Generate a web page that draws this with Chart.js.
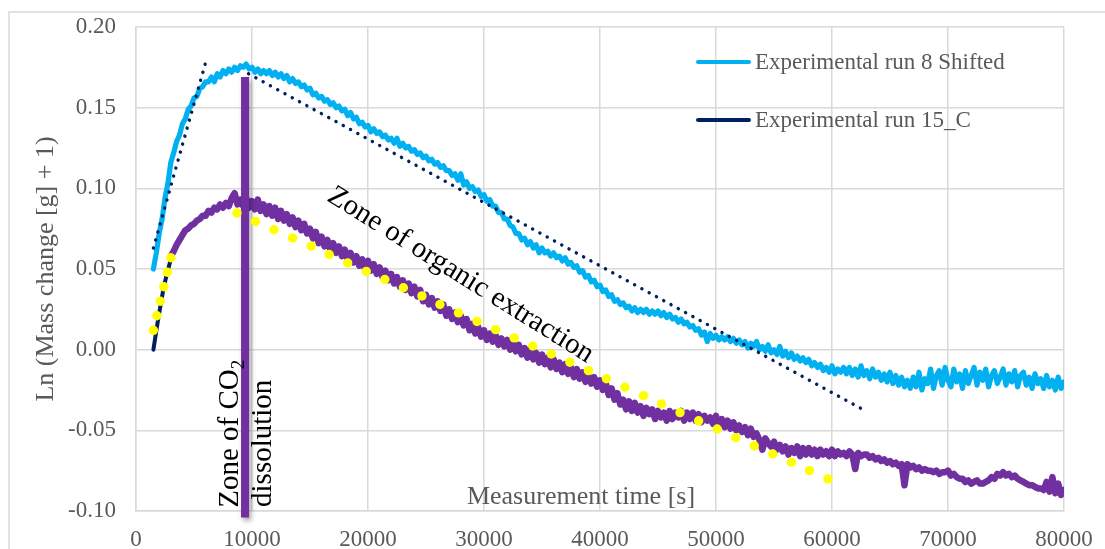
<!DOCTYPE html>
<html>
<head>
<meta charset="utf-8">
<script src="https://cdn.jsdelivr.net/npm/chart.js@4.4.1/dist/chart.umd.min.js"></script>
<style>
  html, body { margin: 0; padding: 0; background: #ffffff; }
  canvas { display: block; }
</style>
</head>
<body>
<canvas id="chart" width="1105" height="549"></canvas>
<script>
// ---- values ---------------------------------------------------------------

// Experimental run 8 (shifted): one reading every 250 s starting at 1500 s
const RUN8_START = 1500;
const RUN8_STEP = 250;
const run8 = [
  // 1500 s
  0.050, 0.060, 0.072, 0.081, 0.094, 0.103, 0.116, 0.122, 0.129, 0.133,
  0.140, 0.143, 0.149, 0.151, 0.156, 0.157, 0.162, 0.163, 0.166, 0.166,
  // 6500 s
  0.169, 0.166, 0.171, 0.169, 0.173, 0.171, 0.174, 0.172, 0.175, 0.173,
  0.176, 0.175, 0.177, 0.174, 0.175, 0.172, 0.174, 0.171, 0.173, 0.171,
  // 11500 s
  0.173, 0.170, 0.172, 0.169, 0.171, 0.168, 0.170, 0.166, 0.168, 0.165,
  0.166, 0.163, 0.164, 0.161, 0.162, 0.158, 0.159, 0.156, 0.157, 0.154,
  // 16500 s
  0.155, 0.152, 0.153, 0.150, 0.151, 0.148, 0.149, 0.145, 0.147, 0.143,
  0.144, 0.140, 0.141, 0.138, 0.139, 0.135, 0.137, 0.134, 0.135, 0.132,
  // 21500 s
  0.133, 0.130, 0.131, 0.128, 0.131, 0.126, 0.128, 0.125, 0.126, 0.123,
  0.124, 0.121, 0.122, 0.119, 0.120, 0.117, 0.118, 0.115, 0.116, 0.113,
  // 26500 s
  0.114, 0.111, 0.111, 0.108, 0.109, 0.105, 0.109, 0.102, 0.104, 0.100,
  0.101, 0.098, 0.099, 0.095, 0.096, 0.092, 0.093, 0.089, 0.089, 0.085,
  // 31500 s
  0.085, 0.081, 0.081, 0.077, 0.076, 0.072, 0.072, 0.068, 0.069, 0.065,
  0.067, 0.063, 0.065, 0.060, 0.063, 0.060, 0.061, 0.058, 0.060, 0.057,
  // 36500 s
  0.058, 0.055, 0.057, 0.053, 0.054, 0.051, 0.052, 0.048, 0.049, 0.045,
  0.046, 0.042, 0.043, 0.039, 0.040, 0.036, 0.037, 0.033, 0.034, 0.030,
  // 41500 s
  0.031, 0.028, 0.029, 0.026, 0.027, 0.024, 0.026, 0.023, 0.025, 0.023,
  0.025, 0.022, 0.024, 0.022, 0.024, 0.021, 0.023, 0.020, 0.022, 0.019,
  // 46500 s
  0.020, 0.017, 0.019, 0.016, 0.017, 0.014, 0.015, 0.012, 0.013, 0.009,
  0.011, 0.005, 0.010, 0.007, 0.009, 0.006, 0.008, 0.006, 0.008, 0.005,
  // 51500 s
  0.007, 0.004, 0.006, 0.003, 0.005, 0.001, 0.004, 0.002, 0.005, 0.000,
  0.002, -0.001, 0.003, -0.002, 0.000, -0.003, 0.002, -0.004, -0.001, -0.005,
  // 56500 s
  -0.002, -0.006, -0.004, -0.007, -0.005, -0.008, -0.006, -0.010, -0.008, -0.011,
  -0.009, -0.013, -0.011, -0.014, -0.010, -0.015, -0.012, -0.014, -0.011, -0.015,
  // 61500 s
  -0.011, -0.016, -0.012, -0.017, -0.010, -0.016, -0.013, -0.018, -0.012, -0.017,
  -0.014, -0.019, -0.015, -0.020, -0.014, -0.021, -0.016, -0.022, -0.017, -0.023,
  // 66500 s
  -0.019, -0.024, -0.017, -0.023, -0.014, -0.025, -0.018, -0.021, -0.012, -0.024,
  -0.016, -0.013, -0.022, -0.011, -0.019, -0.023, -0.012, -0.020, -0.015, -0.024,
  // 71500 s
  -0.013, -0.021, -0.016, -0.011, -0.022, -0.014, -0.019, -0.012, -0.023, -0.016,
  -0.013, -0.021, -0.017, -0.012, -0.022, -0.015, -0.020, -0.013, -0.023, -0.016,
  // 76500 s
  -0.014, -0.022, -0.017, -0.024, -0.015, -0.021, -0.018, -0.024, -0.016, -0.023,
  -0.019, -0.025, -0.017, -0.024, -0.020
];

// Experimental run 15_C, first minutes: one reading every 300 s from 1500 s
const RUN15_START = 1500;
const RUN15_STEP = 300;
const run15 = [0.000, 0.014, 0.027, 0.039, 0.048, 0.056];

// Run 15_C, full record: one reading every 250 s from 3000 s
const RUN15_LONG_START = 3000;
const RUN15_LONG_STEP = 250;
const run15Long = [
  // 3000 s
  0.058, 0.061, 0.065, 0.068, 0.071, 0.074, 0.075, 0.077, 0.078, 0.080,
  0.081, 0.083, 0.083, 0.086, 0.085, 0.088, 0.087, 0.090, 0.088, 0.091,
  // 8000 s
  0.089, 0.094, 0.097, 0.090, 0.093, 0.089, 0.094, 0.088, 0.092, 0.087,
  0.093, 0.086, 0.090, 0.084, 0.089, 0.083, 0.088, 0.081, 0.086, 0.080,
  // 13000 s
  0.084, 0.078, 0.082, 0.076, 0.080, 0.074, 0.078, 0.072, 0.075, 0.069,
  0.073, 0.066, 0.070, 0.064, 0.068, 0.062, 0.066, 0.060, 0.064, 0.058,
  // 18000 s
  0.062, 0.056, 0.060, 0.054, 0.058, 0.052, 0.056, 0.050, 0.055, 0.049,
  0.053, 0.047, 0.051, 0.045, 0.049, 0.043, 0.047, 0.041, 0.045, 0.039,
  // 23000 s
  0.043, 0.037, 0.041, 0.035, 0.039, 0.033, 0.037, 0.030, 0.034, 0.028,
  0.032, 0.026, 0.030, 0.024, 0.028, 0.021, 0.025, 0.019, 0.023, 0.017,
  // 28000 s
  0.021, 0.015, 0.019, 0.012, 0.016, 0.010, 0.014, 0.008, 0.012, 0.006,
  0.010, 0.005, 0.009, 0.003, 0.007, 0.002, 0.006, 0.000, 0.004, -0.001,
  // 33000 s
  0.003, -0.003, 0.001, -0.005, 0.000, -0.006, -0.002, -0.008, -0.003, -0.009,
  -0.005, -0.011, -0.006, -0.012, -0.008, -0.014, -0.009, -0.015, -0.011, -0.017,
  // 38000 s
  -0.012, -0.018, -0.014, -0.020, -0.016, -0.021, -0.017, -0.023, -0.019, -0.025,
  -0.021, -0.028, -0.024, -0.031, -0.027, -0.034, -0.031, -0.037, -0.032, -0.038,
  // 43000 s
  -0.033, -0.039, -0.035, -0.041, -0.036, -0.040, -0.037, -0.043, -0.038, -0.042,
  -0.039, -0.044, -0.038, -0.043, -0.039, -0.042, -0.038, -0.044, -0.039, -0.043,
  // 48000 s
  -0.039, -0.044, -0.040, -0.045, -0.041, -0.044, -0.042, -0.046, -0.041, -0.047,
  -0.043, -0.048, -0.044, -0.049, -0.045, -0.050, -0.047, -0.051, -0.048, -0.053,
  // 53000 s
  -0.049, -0.054, -0.052, -0.056, -0.062, -0.055, -0.058, -0.060, -0.057, -0.062,
  -0.059, -0.063, -0.060, -0.065, -0.061, -0.064, -0.060, -0.066, -0.061, -0.065,
  // 58000 s
  -0.061, -0.065, -0.062, -0.066, -0.062, -0.065, -0.063, -0.066, -0.062, -0.066,
  -0.063, -0.065, -0.064, -0.066, -0.063, -0.065, -0.074, -0.064, -0.066, -0.065,
  // 63000 s
  -0.065, -0.067, -0.066, -0.068, -0.067, -0.069, -0.068, -0.070, -0.069, -0.071,
  -0.070, -0.072, -0.071, -0.084, -0.071, -0.073, -0.072, -0.074, -0.073, -0.075,
  // 68000 s
  -0.074, -0.075, -0.075, -0.076, -0.075, -0.077, -0.076, -0.076, -0.075, -0.078,
  -0.077, -0.079, -0.080, -0.080, -0.082, -0.081, -0.083, -0.082, -0.081, -0.083,
  // 73000 s
  -0.083, -0.082, -0.081, -0.079, -0.080, -0.077, -0.078, -0.076, -0.078, -0.077,
  -0.079, -0.078, -0.080, -0.081, -0.082, -0.083, -0.084, -0.084, -0.085, -0.086,
  // 78000 s
  -0.086, -0.087, -0.082, -0.088, -0.079, -0.089, -0.083, -0.090, -0.087
];

// Model points (yellow markers)
const modelTimes = [
  1500, 1800, 2100, 2400, 2700, 3000,
  8700, 10300, 11900, 13500, 15100, 16650, 18250, 19850, 21450, 23050,
  24650, 26200, 27800, 29400, 31000, 32600, 34200, 35800, 37400, 39000,
  40550, 42150, 43750, 45300, 46900, 48500, 50100, 51700, 53300, 54900,
  56500, 58050, 59650
];
const modelValues = [
  0.012, 0.021, 0.030, 0.039, 0.048, 0.057,
  0.0847, 0.0795, 0.0743, 0.0692, 0.0642, 0.0590, 0.0537, 0.0485, 0.0435, 0.0384,
  0.0333, 0.0280, 0.0228, 0.0175, 0.0124, 0.0073, 0.0023, -0.0027, -0.0078, -0.0130,
  -0.0180, -0.0233, -0.0285, -0.0336, -0.0390, -0.0441, -0.0492, -0.0545, -0.0596, -0.0647,
  -0.0698, -0.0750, -0.0801
];

// Linear trends (dotted)
const riseTimes = [1500, 6000];
const riseValues = [0.063, 0.178];
const fallTimes = [9700, 62900];
const fallValues = [0.171, -0.038];

// Boundary between the two zones
const boundaryTimes = [9400, 9400];
const boundaryValues = [0.169, -0.104];

// Axis ticks
const xTickValues = [0, 10000, 20000, 30000, 40000, 50000, 60000, 70000, 80000];
const yTickValues = [-0.10, -0.05, 0.00, 0.05, 0.10, 0.15, 0.20];

// Text
const LEGEND_ENTRIES = ['Experimental run 8 Shifted', 'Experimental run 15_C'];
const X_TITLE = 'Measurement time [s]';
const Y_TITLE = 'Ln (Mass change [g] + 1)';

// ---- helpers ----------------------------------------------------------------
const SERIF = "'Liberation Serif', 'Times New Roman', serif";
const GREY = '#595959';
const GRID = '#d9d9d9';
const BLUE = '#00B0F0';
const NAVY = '#002060';
const PURPLE = '#7030A0';
const YELLOW = '#FFFF00';

const sampled = (start, step, vals) => vals.map((y, i) => ({ x: start + i * step, y }));
const paired = (xs, ys) => xs.map((x, i) => ({ x, y: ys[i] }));

const datasets = [
  { label: 'Model', data: paired(modelTimes, modelValues), order: 1,
    showLine: false, pointRadius: 4.7, pointBackgroundColor: YELLOW, pointBorderWidth: 0 },
  { label: 'Trend (dissolution)', data: paired(riseTimes, riseValues), order: 2,
    borderColor: NAVY, borderWidth: 3.4, borderDash: [0.1, 8.2], borderCapStyle: 'round', pointRadius: 0 },
  { label: 'Trend (extraction)', data: paired(fallTimes, fallValues), order: 2,
    borderColor: NAVY, borderWidth: 3.4, borderDash: [0.1, 8.2], borderCapStyle: 'round', pointRadius: 0 },
  { label: 'Zone boundary', data: paired(boundaryTimes, boundaryValues), order: 3, clip: false,
    borderColor: PURPLE, borderWidth: 8, borderCapStyle: 'butt', pointRadius: 0 },
  { label: 'Run 15_C record', data: sampled(RUN15_LONG_START, RUN15_LONG_STEP, run15Long), order: 4,
    borderColor: PURPLE, borderWidth: 6.5, borderJoinStyle: 'round', borderCapStyle: 'round', pointRadius: 0 },
  { label: LEGEND_ENTRIES[1], data: sampled(RUN15_START, RUN15_STEP, run15), order: 5,
    borderColor: NAVY, borderWidth: 4, borderCapStyle: 'round', pointRadius: 0 },
  { label: LEGEND_ENTRIES[0], data: sampled(RUN8_START, RUN8_STEP, run8), order: 6,
    borderColor: BLUE, borderWidth: 5.2, borderJoinStyle: 'round', borderCapStyle: 'round', pointRadius: 0 }
];

// Text written on rotated baselines; parts allow a subscript
function rotatedText(c, x, y, angle, parts) {
  c.save();
  c.translate(x, y);
  c.rotate(angle);
  c.textAlign = 'left';
  c.textBaseline = 'alphabetic';
  let cx = 0;
  for (const p of parts) {
    c.font = p.font;
    c.fillText(p.text, cx, p.dy || 0);
    cx += c.measureText(p.text).width;
  }
  c.restore();
}

const decorations = {
  id: 'decorations',
  beforeDraw(chart) {
    const c = chart.ctx;
    c.save();
    c.strokeStyle = GRID;
    c.lineWidth = 1.5;
    c.beginPath();
    c.moveTo(9, chart.height + 4);
    c.lineTo(9, 12);
    c.lineTo(chart.width + 4, 12);
    c.stroke();
    c.restore();
  },
  beforeDatasetDraw(chart, args) {
    if (chart.data.datasets[args.index].label !== 'Zone boundary') return;
    const c = chart.ctx;
    c.save();
    c.shadowColor = 'rgba(0,0,0,0.35)';
    c.shadowBlur = 5;
    c.shadowOffsetX = 2;
    c.shadowOffsetY = 3;
  },
  afterDatasetDraw(chart, args) {
    if (chart.data.datasets[args.index].label !== 'Zone boundary') return;
    chart.ctx.restore();
  },
  afterDraw(chart) {
    const c = chart.ctx;
    const a = chart.chartArea;
    const xs = chart.scales.x, ys = chart.scales.y;

    // axis titles
    c.save();
    c.fillStyle = GREY;
    c.font = '26px ' + SERIF;
    c.textAlign = 'center';
    c.textBaseline = 'middle';
    c.fillText(X_TITLE, a.left + 445, a.bottom - 14);
    c.translate(46, (a.top + a.bottom) / 2);
    c.rotate(-Math.PI / 2);
    c.fillText(Y_TITLE, 0, 0);
    c.restore();

    // legend
    c.save();
    c.font = '23px ' + SERIF;
    c.textBaseline = 'middle';
    c.textAlign = 'left';
    LEGEND_ENTRIES.forEach((name, i) => {
      const ds = chart.data.datasets.find(d => d.label === name);
      const y = a.top + 35 + i * 58;
      c.strokeStyle = ds.borderColor;
      c.lineWidth = 4;
      c.lineCap = 'round';
      c.beginPath();
      c.moveTo(a.right - 366, y);
      c.lineTo(a.right - 315, y);
      c.stroke();
      c.fillStyle = GREY;
      c.fillText(name, a.right - 309, y + 1);
    });
    c.restore();

    // zone labels
    c.save();
    c.fillStyle = '#000000';
    const big = '29px ' + SERIF, sub = '19px ' + SERIF;
    rotatedText(c, xs.getPixelForValue(8790), ys.getPixelForValue(-0.098), -Math.PI / 2,
      [{ text: 'Zone of CO', font: big }, { text: '2', font: sub, dy: 6 }]);
    rotatedText(c, xs.getPixelForValue(11640), ys.getPixelForValue(-0.0975), -Math.PI / 2,
      [{ text: 'dissolution', font: big }]);
    rotatedText(c, xs.getPixelForValue(16380), ys.getPixelForValue(0.0928), 32 * Math.PI / 180,
      [{ text: 'Zone of organic extraction', font: big }]);
    c.restore();
  }
};

new Chart(document.getElementById('chart'), {
  type: 'line',
  data: { datasets },
  plugins: [decorations],
  options: {
    responsive: false,
    animation: false,
    events: [],
    layout: { padding: { top: 27, right: 41, bottom: 0, left: 0 } },
    elements: { line: { tension: 0 } },
    plugins: { legend: { display: false }, tooltip: { enabled: false } },
    scales: {
      x: {
        type: 'linear', min: 0, max: 80000,
        afterBuildTicks: s => { s.ticks = xTickValues.map(v => ({ value: v })); },
        afterFit: s => { s.height = 38; s.paddingLeft = 0; s.paddingRight = 0; },
        ticks: { color: GREY, font: { family: SERIF, size: 23 }, padding: 15, maxRotation: 0,
                 autoSkip: false, callback: v => String(v) },
        grid: { color: GRID, lineWidth: 1.5, drawTicks: false },
        border: { color: GRID, width: 1.5 }
      },
      y: {
        type: 'linear', min: -0.1, max: 0.2,
        afterBuildTicks: s => { s.ticks = yTickValues.map(v => ({ value: v })); },
        afterFit: s => { s.width = 136; s.paddingTop = 0; s.paddingBottom = 0; },
        ticks: { color: GREY, font: { family: SERIF, size: 23 }, padding: 20,
                 callback: v => Number(v).toFixed(2) },
        grid: { color: GRID, lineWidth: 1.5, drawTicks: false },
        border: { color: GRID, width: 1.5 }
      }
    }
  }
});
</script>
</body>
</html>
